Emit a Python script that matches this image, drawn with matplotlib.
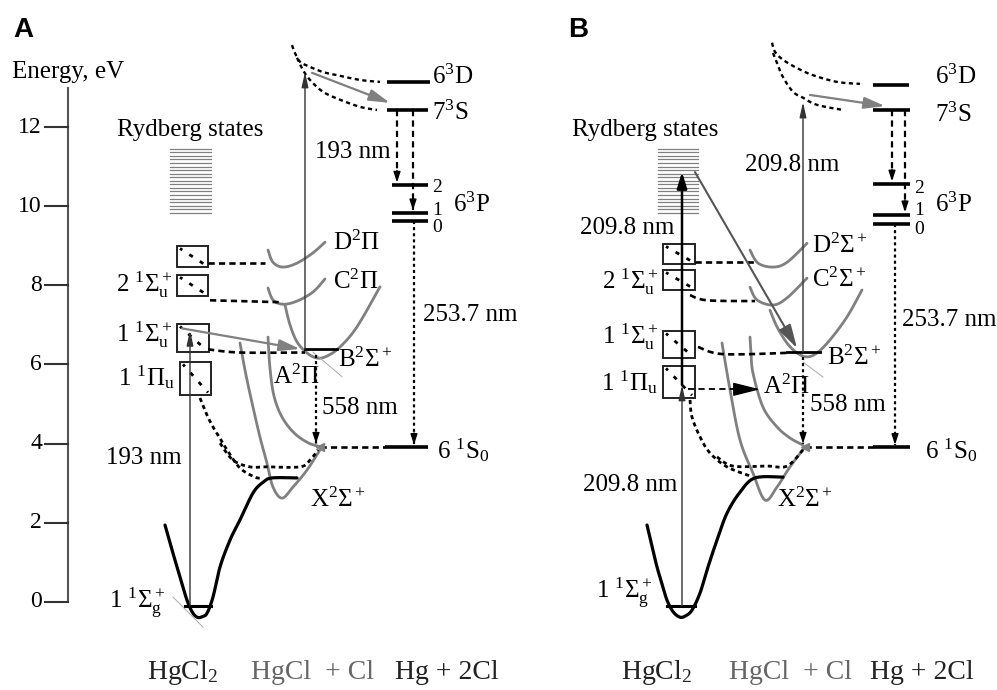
import numpy as np
import matplotlib
matplotlib.use("Agg")
import matplotlib.pyplot as plt
from matplotlib.patches import Rectangle

plt.rcParams['font.family'] = 'Liberation Serif'
plt.rcParams['mathtext.fontset'] = 'custom'
plt.rcParams['mathtext.rm'] = 'Liberation Serif'
plt.rcParams['mathtext.it'] = 'Liberation Serif:italic'
plt.rcParams['lines.scale_dashes'] = False

GRAY = '#808080'
DGRAY = '#555555'
FS = 18

# energy scale (eV)
energy_ticks = [0, 2, 4, 6, 8, 10, 12]

# Hg atom levels: 6^3D, 7^3S, 6^3P2, 6^3P1, 6^3P0, 6^1S0
a_hg_E = [13.14, 12.43, 10.53, 9.83, 9.63, 3.91]
a_hg_x0 = [387, 387, 392, 392, 392, 385]
a_hg_x1 = [430, 428, 428, 428, 428, 428]
b_hg_E = [13.06, 12.43, 10.56, 9.78, 9.55, 3.91]
b_hg_x0 = [373, 373, 373, 373, 373, 373]
b_hg_x1 = [409, 410, 410, 410, 410, 410]

# HgCl2 excited states (boxes)
a_box_l = [177, 177, 177, 180]
a_box_r = [208, 208, 209, 211]
a_box_top = [8.99, 8.26, 7.02, 6.06]
a_box_bot = [8.46, 7.73, 6.31, 5.23]
b_box_l = [163, 163, 163, 163]
b_box_r = [195, 195, 195, 195]
b_box_top = [9.04, 8.38, 6.84, 5.96]
b_box_bot = [8.54, 7.88, 6.16, 5.16]
box_labels = [None, r'$\mathrm{2\ {}^1\Sigma_u^+}$', r'$\mathrm{1\ {}^1\Sigma_u^+}$',
              r'$\mathrm{1\ {}^1\Pi_u}$']
a_boxlab_E = [None, 8.0, 6.74, 5.69]
b_boxlab_E = [None, 8.08, 6.69, 5.55]

# Rydberg band
ryd_lo, ryd_hi, ryd_n = 9.83, 11.45, 19
a_ryd_x = [170, 211]
b_ryd_x = [158, 198]

# HgCl2 ground state
a_gs_x = [165, 171, 177, 182, 187, 192, 197, 202, 207, 213, 220, 230, 240, 253, 263, 272, 297]
a_gs_E = [1.94, 1.40, 0.88, 0.45, 0.04, -0.25, -0.39, -0.38, -0.29, 0.12, 0.88, 1.56, 2.07, 2.75, 3.02, 3.13, 3.13]
b_gs_x = [147, 152, 157, 162, 167, 173, 180, 186, 192, 200, 208, 217, 227, 240, 255, 283]
b_gs_E = [1.94, 1.40, 0.88, 0.45, 0.04, -0.25, -0.39, -0.35, -0.21, 0.22, 0.88, 1.56, 2.24, 2.77, 3.13, 3.15]

# HgCl states (panel A)
a_D_x = [268, 273, 283, 297, 313, 325]
a_D_E = [8.89, 8.58, 8.46, 8.56, 8.82, 9.09]
a_C_x = [268, 273, 283, 297, 313, 325]
a_C_E = [7.93, 7.63, 7.52, 7.60, 7.83, 8.16]
a_B_x = [285, 290, 297, 307, 317, 327, 340, 357, 380]
a_B_E = [7.50, 7.00, 6.57, 6.29, 6.16, 6.21, 6.44, 6.95, 7.96]
a_X_x = [240, 246, 253, 260, 267, 273, 282, 293, 307, 320]
a_X_E = [6.54, 5.73, 4.92, 4.16, 3.50, 2.90, 2.62, 2.90, 3.33, 3.84]
a_A_x = [268, 270, 274, 282, 294, 308, 320]
a_A_E = [6.69, 5.90, 5.20, 4.67, 4.27, 4.02, 3.92]

# HgCl states (panel B)
b_D_x = [250, 258, 273, 287, 307]
b_D_E = [8.89, 8.56, 8.46, 8.58, 9.06]
b_C_x = [250, 257, 273, 287, 307]
b_C_E = [7.95, 7.63, 7.50, 7.68, 8.18]
b_B_x = [270, 277, 287, 297, 307, 317, 330, 347, 362]
b_B_E = [7.37, 6.95, 6.54, 6.29, 6.19, 6.29, 6.62, 7.20, 7.88]
b_X_x = [222, 230, 240, 253, 265, 277, 290, 305]
b_X_E = [6.54, 5.36, 4.09, 3.25, 2.57, 2.90, 3.41, 3.91]
b_A_x = [250, 251, 253, 263, 277, 290, 303]
b_A_E = [6.69, 6.30, 5.78, 4.92, 4.42, 4.14, 3.96]

# repulsive curves to Hg(6^3D) and Hg(7^3S)
a_rD_x = [292, 295, 300, 310, 323, 337, 360, 380]
a_rD_E = [14.07, 13.87, 13.65, 13.52, 13.39, 13.31, 13.19, 13.14]
a_rS_x = [297, 303, 310, 323, 340, 360, 377]
a_rS_E = [13.75, 13.44, 13.19, 12.89, 12.69, 12.51, 12.43]
b_rD_x = [272, 275, 283, 297, 313, 337, 360]
b_rD_E = [14.13, 13.90, 13.70, 13.49, 13.31, 13.14, 13.09]
b_rS_x = [273, 277, 283, 293, 303, 317, 343]
b_rS_E = [13.87, 13.62, 13.26, 12.89, 12.74, 12.56, 12.43]

# correlation (dashed) lines
a_c1 = ([208, 265], [8.56, 8.56])
a_c2 = ([210, 283], [7.62, 7.57])
a_c3 = ([208, 240, 305], [6.38, 6.30, 6.30])
a_d1 = ([200, 207, 213, 220, 227, 240, 255, 262], [5.15, 4.72, 4.42, 4.13, 3.84, 3.38, 3.15, 3.13])
a_d2 = ([220, 233, 250, 267, 300, 310, 318], [4.01, 3.58, 3.41, 3.41, 3.41, 3.58, 3.84])
b_c1 = ([195, 255], [8.58, 8.58])
b_c2 = ([190, 207, 255], [7.75, 7.62, 7.60])
b_c3 = ([198, 223, 287], [6.44, 6.26, 6.29])
b_d1 = ([190, 192, 200, 210, 227, 250], [5.10, 4.67, 4.17, 3.76, 3.41, 3.18])
b_d2 = ([217, 233, 267, 287, 303], [3.66, 3.43, 3.43, 3.43, 3.84])

E_LO, E_HI = -2.23, 15.21


def smooth(xs, ys, n=14):
    p = np.column_stack([xs, ys]).astype(float)
    P = np.vstack([p[0], p, p[-1]])
    out = []
    t = np.linspace(0, 1, n, endpoint=False)[:, None]
    for i in range(1, len(P) - 2):
        p0, p1, p2, p3 = P[i - 1], P[i], P[i + 1], P[i + 2]
        out.append(0.5 * (2 * p1 + (-p0 + p2) * t + (2 * p0 - 5 * p1 + 4 * p2 - p3) * t ** 2
                          + (-p0 + 3 * p1 - 3 * p2 + p3) * t ** 3))
    out.append(P[-2][None, :])
    q = np.vstack(out)
    return q[:, 0], q[:, 1]


def curve(ax, xs, ys, color=GRAY, lw=2.0, ls='-'):
    x, y = smooth(xs, ys)
    ax.plot(x, y, color=color, lw=lw, linestyle=ls, solid_capstyle='round')


def arrow(ax, x0, e0, x1, e1, color='k', lw=1.0, ms=12, hl=0.8, hw=0.25):
    ax.annotate('', xy=(x1, e1), xytext=(x0, e0),
                arrowprops=dict(arrowstyle=f'-|>,head_length={hl},head_width={hw}',
                                color=color, lw=lw, mutation_scale=ms, shrinkA=0, shrinkB=0))


def dash_arrow(ax, x, e0, e1, ls):
    ax.plot([x, x], [e0, e1], color='k', lw=1.6, linestyle=ls)
    arrow(ax, x, e1 + 0.3, x, e1, lw=1.0, ms=7, hl=0.9, hw=0.3)


def levels(ax, x0s, x1s, Es):
    for x0, x1, e in zip(x0s, x1s, Es):
        ax.plot([x0, x1], [e, e], color='k', lw=2.6, solid_capstyle='butt')


def boxes(ax, ls, rs, tops, bots, lab_E):
    for l, r, t, b, lab, le in zip(ls, rs, tops, bots, box_labels, lab_E):
        ax.add_patch(Rectangle((l, b), r - l, t - b, fill=False, ec='#222222', lw=1.4))
        ax.plot([l + 3, r - 3], [t - 0.06, b + 0.06], color='k', lw=2.0, linestyle=(1, (3, 6)))
        if lab:
            ax.text(l - 5, le, lab, fontsize=FS, ha='right', va='center')


def rydberg(ax, xr):
    for e in np.linspace(ryd_lo, ryd_hi, ryd_n):
        ax.plot(xr, [e, e], color=GRAY, lw=0.9)


fig = plt.figure(figsize=(9.97, 6.9), dpi=100)


def panel(left, width):
    ax = fig.add_axes([left / 997, 0, width / 997, 1])
    ax.set_xlim(0, width)
    ax.set_ylim(E_LO, E_HI)
    ax.axis('off')
    return ax


axA = panel(0, 500)
axB = panel(500, 497)

DOT = (0, (2.2, 2.2))
DASH = (0, (4.5, 3.0))
CDASH = (0, (3.0, 2.5))

# ---------------- panel A ----------------
ax = axA
ax.text(13, 14.45, 'A', fontsize=20, fontweight='bold', family='Liberation Sans', va='center')
ax.text(12, 13.39, 'Energy, eV', fontsize=FS, va='center')
ax.plot([68, 68], [0, 12.99], color=DGRAY, lw=1.5)
for e in energy_ticks:
    ax.plot([45, 68], [e, e], color='#333333', lw=1.5)
    ax.text(42, e, str(e), fontsize=17, ha='right', va='center')

ax.text(190, 11.92, 'Rydberg states', fontsize=FS, ha='center', va='center')
rydberg(ax, a_ryd_x)
boxes(ax, a_box_l, a_box_r, a_box_top, a_box_bot, a_boxlab_E)

for xs, es in [(a_D_x, a_D_E), (a_C_x, a_C_E), (a_B_x, a_B_E), (a_X_x, a_X_E), (a_A_x, a_A_E)]:
    curve(ax, xs, es)
curve(ax, a_gs_x, a_gs_E, color='k', lw=2.3)
ax.plot([185, 211], [-0.1, -0.1], color='k', lw=2.2)
ax.plot([173, 203], [0.12, -0.64], color='#aaaaaa', lw=0.7)
ax.plot([313, 342], [6.31, 5.69], color='#aaaaaa', lw=0.7)

curve(ax, a_rD_x, a_rD_E, color='k', lw=1.7, ls=CDASH)
curve(ax, a_rS_x, a_rS_E, color='k', lw=1.7, ls=CDASH)

for xs, es in [a_c1, a_c2, a_c3]:
    curve(ax, xs, es, color='k', lw=1.9, ls=DASH)
for xs, es in [a_d1, a_d2]:
    curve(ax, xs, es, color='k', lw=2.0, ls=CDASH)
ax.plot([320, 385], [3.91, 3.91], color='k', lw=1.9, linestyle=DASH)
ax.plot([320], [3.91], marker='<', color=GRAY, ms=6)

levels(ax, a_hg_x0, a_hg_x1, a_hg_E)
ax.plot([305, 337], [6.38, 6.38], color='k', lw=2.0)

arrow(ax, 190, -0.1, 190, 6.86, color='#333333', lw=1.0, ms=10, hl=0.9, hw=0.2)
arrow(ax, 305, 6.38, 305, 13.39, color='#333333', lw=1.0, ms=10, hl=0.9, hw=0.2)
arrow(ax, 182, 6.91, 300, 6.39, color=GRAY, lw=1.6, ms=14, hl=0.9, hw=0.25)
arrow(ax, 312, 13.37, 390, 12.61, color=GRAY, lw=1.6, ms=14, hl=0.9, hw=0.25)

dash_arrow(ax, 316, 6.24, 4.0, DOT)
dash_arrow(ax, 397, 12.43, 10.6, DASH)
dash_arrow(ax, 413, 12.43, 9.9, DASH)
dash_arrow(ax, 414, 9.63, 3.97, DOT)

ax.text(182, 3.63, '193 nm', fontsize=FS, ha='right', va='center')
ax.text(315, 11.37, '193 nm', fontsize=FS, va='center')
ax.text(333, 9.07, r'$\mathrm{D^2\Pi}$', fontsize=FS, va='center')
ax.text(333, 8.08, r'$\mathrm{C^2\Pi}$', fontsize=FS, va='center')
ax.text(338, 6.11, r'$\mathrm{B^2\Sigma^+}$', fontsize=FS, va='center')
ax.text(273, 5.68, r'$\mathrm{A^2\Pi}$', fontsize=FS, va='center')
ax.text(322, 4.9, '558 nm', fontsize=FS, va='center')
ax.text(310, 2.57, r'$\mathrm{X^2\Sigma^+}$', fontsize=FS, va='center')
ax.text(165, -0.03, r'$\mathrm{1\ {}^1\Sigma_g^+}$', fontsize=FS, ha='right', va='center')
ax.text(437, 3.84, r'$\mathrm{6\ {}^1S_0}$', fontsize=FS, va='center')
ax.text(423, 7.25, '253.7 nm', fontsize=FS, va='center')
ax.text(432, 13.26, r'$\mathrm{6^3D}$', fontsize=FS, va='center')
ax.text(432, 12.36, r'$\mathrm{7^3S}$', fontsize=FS, va='center')
ax.text(453, 10.03, r'$\mathrm{6^3P}$', fontsize=FS, va='center')
for lab, e in zip(['2', '1', '0'], [10.48, 9.9, 9.45]):
    ax.text(432, e, lab, fontsize=14, va='center')
ax.text(183, -1.8, r'HgCl$_2$', fontsize=20, ha='center', va='center', color='#222222')
ax.text(312, -1.8, 'HgCl  + Cl', fontsize=20, ha='center', va='center', color='#666666')
ax.text(447, -1.8, 'Hg + 2Cl', fontsize=20, ha='center', va='center', color='#222222')

# ---------------- panel B ----------------
ax = axB
ax.text(68, 14.45, 'B', fontsize=20, fontweight='bold', family='Liberation Sans', va='center')
ax.text(145, 11.92, 'Rydberg states', fontsize=FS, ha='center', va='center')
rydberg(ax, b_ryd_x)
boxes(ax, b_box_l, b_box_r, b_box_top, b_box_bot, b_boxlab_E)

for xs, es in [(b_D_x, b_D_E), (b_C_x, b_C_E), (b_B_x, b_B_E), (b_X_x, b_X_E), (b_A_x, b_A_E)]:
    curve(ax, xs, es)
curve(ax, b_gs_x, b_gs_E, color='k', lw=2.3)
ax.plot([167, 195], [-0.1, -0.1], color='k', lw=2.2)
ax.plot([303, 323], [6.06, 5.68], color='#aaaaaa', lw=0.7)

curve(ax, b_rD_x, b_rD_E, color='k', lw=1.7, ls=CDASH)
curve(ax, b_rS_x, b_rS_E, color='k', lw=1.7, ls=CDASH)

for xs, es in [b_c1, b_c2, b_c3]:
    curve(ax, xs, es, color='k', lw=1.9, ls=DASH)
for xs, es in [b_d1, b_d2]:
    curve(ax, xs, es, color='k', lw=2.0, ls=CDASH)
ax.plot([305, 373], [3.91, 3.91], color='k', lw=1.9, linestyle=DASH)
ax.plot([305], [3.91], marker='<', color=GRAY, ms=6)

levels(ax, b_hg_x0, b_hg_x1, b_hg_E)
ax.plot([287, 320], [6.31, 6.31], color='k', lw=2.0)

arrow(ax, 182, -0.1, 182, 5.48, color='#333333', lw=1.0, ms=10, hl=0.9, hw=0.2)
arrow(ax, 182, 5.48, 182, 10.86, color='k', lw=1.8, ms=12, hl=0.8, hw=0.25)
arrow(ax, 303, 6.31, 303, 12.63, color='#333333', lw=1.0, ms=10, hl=0.9, hw=0.2)
arrow(ax, 195, 10.86, 297, 6.41, color=DGRAY, lw=1.5, ms=16, hl=0.9, hw=0.25)
arrow(ax, 310, 12.81, 385, 12.53, color=GRAY, lw=1.6, ms=14, hl=0.9, hw=0.25)
ax.plot([188, 245], [5.37, 5.37], color='k', lw=1.3, linestyle=DASH)
arrow(ax, 240, 5.37, 260, 5.37, color='k', lw=1.0, ms=14, hl=1.2, hw=0.3)

dash_arrow(ax, 303, 6.19, 4.0, DOT)
dash_arrow(ax, 392, 12.43, 10.63, DASH)
dash_arrow(ax, 405, 12.43, 9.85, DASH)
dash_arrow(ax, 395, 9.55, 3.97, DOT)

ax.text(127, 9.45, '209.8 nm', fontsize=FS, ha='center', va='center')
ax.text(130, 2.95, '209.8 nm', fontsize=FS, ha='center', va='center')
ax.text(292, 11.04, '209.8 nm', fontsize=FS, ha='center', va='center')
ax.text(312, 9.0, r'$\mathrm{D^2\Sigma^+}$', fontsize=FS, va='center')
ax.text(312, 8.13, r'$\mathrm{C^2\Sigma^+}$', fontsize=FS, va='center')
ax.text(327, 6.16, r'$\mathrm{B^2\Sigma^+}$', fontsize=FS, va='center')
ax.text(263, 5.43, r'$\mathrm{A^2\Pi}$', fontsize=FS, va='center')
ax.text(310, 4.97, '558 nm', fontsize=FS, va='center')
ax.text(277, 2.57, r'$\mathrm{X^2\Sigma^+}$', fontsize=FS, va='center')
ax.text(152, 0.22, r'$\mathrm{1\ {}^1\Sigma_g^+}$', fontsize=FS, ha='right', va='center')
ax.text(425, 3.84, r'$\mathrm{6\ {}^1S_0}$', fontsize=FS, va='center')
ax.text(402, 7.12, '253.7 nm', fontsize=FS, va='center')
ax.text(435, 13.26, r'$\mathrm{6^3D}$', fontsize=FS, va='center')
ax.text(435, 12.31, r'$\mathrm{7^3S}$', fontsize=FS, va='center')
ax.text(435, 10.03, r'$\mathrm{6^3P}$', fontsize=FS, va='center')
for lab, e in zip(['2', '1', '0'], [10.45, 9.9, 9.4]):
    ax.text(414, e, lab, fontsize=14, va='center')
ax.text(157, -1.8, r'HgCl$_2$', fontsize=20, ha='center', va='center', color='#222222')
ax.text(290, -1.8, 'HgCl  + Cl', fontsize=20, ha='center', va='center', color='#666666')
ax.text(422, -1.8, 'Hg + 2Cl', fontsize=20, ha='center', va='center', color='#222222')

fig.savefig('out.png', dpi=100)
